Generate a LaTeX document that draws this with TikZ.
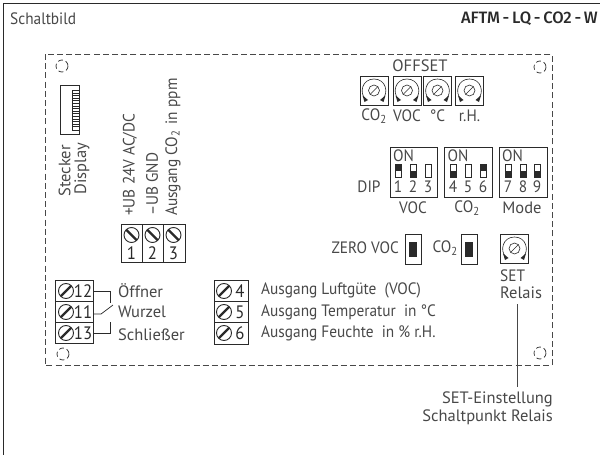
\documentclass[tikz,border=0pt]{standalone}
\usepackage{fontspec}
\setmainfont{PT Sans}[FakeStretch=0.93]
\newfontfamily\widefont{PT Sans}
\newfontfamily\headbold{Fira Sans}[UprightFont=* Medium]
\definecolor{txt}{HTML}{484848}
\definecolor{ink}{HTML}{2A2A2A}
\tikzset{
  x=1pt,y=-1pt,
  lab/.style={font=\fontsize{16.5}{16.5}\selectfont,text=txt,inner sep=0pt},
  wlab/.style={font=\widefont\fontsize{16.5}{16.5}\selectfont,text=txt,inner sep=0pt},
  num/.style={font=\fontsize{18}{18}\selectfont,text=ink,inner sep=0pt},
  labl/.style={lab,anchor=west},
  wlabl/.style={wlab,anchor=west},
  wlabr/.style={wlab,anchor=east},
  labr/.style={lab,anchor=east},
  vlab/.style={lab,rotate=90,anchor=west},
  boxl/.style={draw=ink,line width=0.8pt,fill=white},
  scr/.pic={\draw[ink,line width=0.9pt] (0,0) circle (7.5);
            \draw[ink,line width=2.2pt] (-5.3,5.3) -- (5.3,-5.3);},
  scrb/.pic={\draw[ink,line width=0.9pt] (0,0) circle (7.5);
            \draw[ink,line width=2.2pt] (-5.3,-5.3) -- (5.3,5.3);},
  pot/.pic={\draw[ink,line width=0.8pt] (-14,-14.5) rectangle (14,14.5);
     \draw[ink,line width=0.6pt] (-8.5,8.5) .. controls (-15,2.5) and (-12,-11.5) .. (0,-11.5)
        .. controls (12,-11.5) and (15,2.5) .. (8.5,8.5);
     \draw[ink,line width=0.6pt] (0,0) circle (5.5);
     \draw[ink,line width=0.6pt] (-3.6,3.6) -- (3.6,-3.6);
     \fill[ink] (-11.5,5) -- (-6,9.5) -- (-9.5,11.5) -- cycle;
     \fill[ink] (11.5,5) -- (6,9.5) -- (9.5,11.5) -- cycle;},
  hole/.style={draw=ink,line width=0.7pt,dash pattern=on 5pt off 3pt},
}
\newcommand{\dsw}[2]{%
  \draw[ink,line width=0.6pt] (#1-3,164) rectangle (#1+3,177);
  \ifnum#2=1 \fill[ink] (#1-3,164) rectangle (#1+3,170.5);\fi
  \ifnum#2=2 \fill[ink] (#1-3,170.5) rectangle (#1+3,177);\fi
}
\begin{document}
\begin{tikzpicture}
\useasboundingbox (0,0) rectangle (600,455);
\fill[white] (0,0) rectangle (600,455);
\draw[ink,line width=1pt] (600,3) -- (3,3) -- (3,455);
\node[labl] (title) at (10,19) {Schaltbild};
\node[anchor=east,inner sep=0pt,font=\headbold\fontsize{16.5}{16.5}\selectfont,text=ink] (type) at (598,19) {AFTM\,-\,LQ\,-\,CO2\,-\,W};
% board
\draw[txt,line width=0.9pt,dash pattern=on 6pt off 3.2pt] (45,54) rectangle (552,365.5);
\foreach \p in {(62,66),(540,67),(63,354),(540,353)} \draw[hole] \p circle (6);
% display
\draw[ink,line width=0.8pt] (60,85) rectangle (79.5,134);
\draw[ink,line width=0.7pt] (79.5,90.5) -- (72,90.5) -- (72,130) -- (79.5,130);
\foreach \i in {0,...,13} \draw[ink,line width=0.8pt] (73,{93+\i*2.6}) -- (78.5,{93+\i*2.6});
\node[wlab,rotate=90] (st) at (64.5,171) {Stecker};
\node[wlab,rotate=90] (di) at (82,168.5) {Display};
% power terminals
\draw[boxl] (121,224) rectangle (185,262);
\draw[ink,line width=0.8pt] (142,224) -- (142,262) (163,224) -- (163,262);
\foreach \x/\n in {131.5/1,152.5/2,173.5/3}{
  \pic at (\x,235) {scrb};
  \node[num] at (\x,253) {\n};}
\node[vlab] at (130,216) {+UB 24V AC/DC};
\node[vlab] at (152,216) {–UB GND};
\node[vlab] at (173,216) {Ausgang CO\textsubscript{2}\hspace{2pt} in ppm};
% relay
\draw[boxl] (55,280) rectangle (93,343);
\draw[ink,line width=0.8pt] (55,301.5) -- (93,301.5) (55,322.5) -- (93,322.5);
\foreach \y/\n in {291/12,312/11,333/13}{
  \pic at (66,\y) {scr};
  \node[num] at (83,\y) {\n};}
\draw[ink,line width=0.7pt] (93,291) -- (110.6,291) -- (110.6,303);
\draw[ink,line width=0.7pt] (93,314) -- (101,314) -- (113,305);
\draw[ink,line width=0.7pt] (93,333) -- (110.6,333) -- (110.6,322);
\node[wlabl] at (118,291) {Öffner};
\node[wlabl] at (118,312) {Wurzel};
\node[wlabl] at (118,335) {Schließer};
% outputs
\draw[boxl] (214,280) rectangle (248,344);
\draw[ink,line width=0.8pt] (214,301.5) -- (248,301.5) (214,322.5) -- (248,322.5);
\foreach \y/\n in {291/4,312/5,333/6}{
  \pic at (224,\y) {scr};
  \node[num] at (240,\y) {\n};}
\node[labl] at (261,290) {Ausgang Luftgüte~ (VOC)};
\node[labl] at (261,312) {Ausgang Temperatur~ in °C};
\node[labl] at (261,333) {Ausgang Feuchte~ in \% r.H.};
% offset
\node[wlab] at (420,66) {OFFSET};
\foreach \x/\t in {374/CO\textsubscript{2},407/VOC,437.5/°C,469.5/r.H.}{
  \pic at (\x,90.5) {pot};
  \node[lab] at (\x,116) {\t};}
% DIP
\node[lab] at (369,187) {DIP};
\draw[boxl] (390,147) rectangle (437,197);
\draw[boxl] (444,147) rectangle (492,197);
\draw[boxl] (499,147) rectangle (547,197);
\foreach \x in {393,447.5,502} \node[labl] at (\x,155.5) {ON};
\foreach \x/\n in {398/1,413/2,428/3,453/4,468/5,483/6,508/7,523/8,537/9}
  \node[lab] at (\x,187) {\n};
\dsw{398}{1} \dsw{413}{2} \dsw{428}{0}
\dsw{453}{2} \dsw{468}{0} \dsw{483}{1}
\dsw{508}{2} \dsw{523}{2} \dsw{537}{2}
\node[lab] at (413,208) {VOC};
\node[lab] at (467,208) {CO\textsubscript{2}};
\node[wlab] at (522,208) {Mode};
% zero
\node[labr] at (399,248) {ZERO VOC};
\node[labr] at (458,248) {CO\textsubscript{2}};
\foreach \x in {413,469}{
  \draw[ink,line width=0.8pt] (\x-8,234) rectangle (\x+8,264);
  \fill[ink] (\x-4,242) rectangle (\x+4,257);}
\pic at (514.5,248.5) {pot};
\node[labl] at (500,276) {SET};
\node[wlabl] (rel) at (500,293) {Relais};
\coordinate (lt) at (517,304);
\coordinate (lb) at (517,387);
\draw[txt,line width=1pt] (lt) -- (lb);
\node[wlabr] at (553,399) {SET-Einstellung};
\node[wlabr] at (553,417) {Schaltpunkt Relais};
\end{tikzpicture}
\end{document}
